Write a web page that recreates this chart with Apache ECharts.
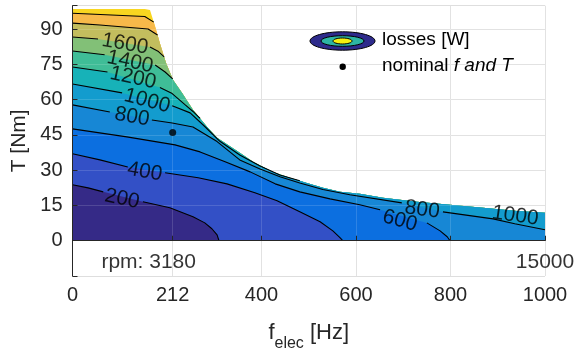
<!DOCTYPE html>
<html><head><meta charset="utf-8">
<script src="https://cdn.jsdelivr.net/npm/echarts@6/dist/echarts.min.js"></script>
<style>html,body{margin:0;padding:0;background:#fff}#c{width:579px;height:354px}</style>
</head><body><div id="c"></div>
<script>
// ---------- data ----------
const xTicks = [0, 212, 400, 600, 800, 1000];
const yTicks = [0, 15, 30, 45, 60, 75, 90];
const levels = [200, 400, 600, 800, 1000, 1200, 1400, 1600, 1800, 2000];
const bandColors = ['#352a87', '#3350c6', '#0c6fe0', '#1787d5', '#139cce', '#17b2b8',
                    '#3fbd97', '#82c077', '#c3bd5e', '#f7b94a', '#f8d620'];
// max-torque envelope [f, T]
const boundary = [[0,98.6],[153,98.6],[164,98.2],[175,91],[185,84],[198,75.6],[213,68.4],[232,62.9],
  [255,55.7],[285,48.4],[306,43.8],[354,37.4],[382,33.6],[424,29.3],[460,26.8],[496,24.6],[530,22.5],
  [566,20.8],[608,20],[657,18.3],[729,16.6],[799,15.3],[869,14],[941,12.7],[1000,11.9]];
// contour lines [f, T], null = gap under label
const c200 = [[0,23.8],[33,22.5],[65,20.8],null,[149,16.6],[206,14],[255,10.2],[280,7.6],[295,5.1],[306,2.5],[310,0]];
const c400 = [[0,37],[58,34.4],[117,31.4],null,[196,28.9],[266,26.8],[327,24.2],[386,20.4],[433,17],[481,12.3],[524,8.1],[551,4.2],[566,1.3],[572,0]];
const c600 = [[0,47.6],[115,44.2],[217,40.8],[270,37.8],[323,33.6],[376,29.3],[429,24.2],[481,20.8],[545,17.8],[608,15.3],[651,13.2],null,[750,7.6],[778,4.2],[793,1.7],[799,0]];
const c800 = [[0,57.8],[79,54.8],null,[168,51.4],[211,50.1],[255,48.4],[306,42.2],[354,34.4],[397,30.5],[439,27.2],[481,24.6],[530,21.8],[587,19.6],[697,16.1],null,[784,12.3],[890,9.3],[936,7.2],[1000,4.7]];
const c1000 = [[0,66.7],[105,62.9],null,[211,57.4],[249,54.4],[280,48.6],[312,42.3],[354,36.5],[397,31.8],[439,28.0],[481,25.5]];
const c1200 = [[0,73.9],[74,71.8],null,[185,65.2],[211,62.6],[238,57.9],[255,55.0],[270,52.05]];
const c1400 = [[0,80.7],[68,79.1],null,[175,74.8],[196,71.8],[212,68.9]];
const c1600 = [[0,86.7],[54,85.8],null,[164,82.4],[182,80.5],[194,78.2]];
const c1800 = [[0,92.6],[58,91.8],[160,90.1],[180,87.5]];
const c2000 = [[0,96.8],[153,95.4],[172,93]];
const contours = [c200, c400, c600, c800, c1000, c1200, c1400, c1600, c1800, c2000];
const contourEnds = ['bottom','bottom','bottom','right','boundary','boundary','boundary','boundary','boundary','boundary'];
// inline contour labels [f, T, text, rotation]
const labelPos = [[111,83.7,'1600',-10],[122,76.1,'1400',-12],[128,69.3,'1200',-12],[158,59.5,'1000',-15],
  [126,52.7,'800',-10],[153,29.3,'400',-10],[105,17.8,'200',-12],[693,8.5,'600',-15],[740,13.2,'800',-8],[937,10.6,'1000',-8]];
const nominal = [212, 46];
const rpmLabels = [[212, 'rpm: 3180'], [1000, '15000']];
const rpmRowT = -9;

// ---------- build ----------
const FONT = 'Liberation Sans, Arial, Helvetica, sans-serif';
function belowPolygon(line, end) {
  const pts = line.filter(p => p);
  const last = pts[pts.length - 1];
  const poly = pts.slice();
  if (end === 'boundary') { boundary.forEach(b => { if (b[0] > last[0]) poly.push(b); }); poly.push([1000, 0]); }
  else if (end === 'right') poly.push([1000, 0]);
  poly.push([0, 0]);
  return poly;
}
const polys = [{ pts: [[0,0]].concat(boundary, [[1000,0]]), color: bandColors[10] }];
for (let i = levels.length - 1; i >= 0; i--) polys.push({ pts: belowPolygon(contours[i], contourEnds[i]), color: bandColors[i] });

const series = [];
series.push({ type: 'line', data: [], z: 1, silent: true,
  markLine: { z: 1, silent: true, symbol: ['none','none'], label: { show: false }, animation: false,
    lineStyle: { color: '#dedede', width: 1, type: 'solid' }, emphasis: { disabled: true },
    data: xTicks.slice(1).map(v => ({ xAxis: v })) } });
series.push({ type: 'custom', z: 2, silent: true, animation: false,
  data: polys.map((p, i) => [i]),
  renderItem: function (params, api) {
    const p = polys[params.dataIndex];
    return { type: 'polygon', shape: { points: p.pts.map(q => api.coord(q)) }, style: { fill: p.color, stroke: null } };
  } });
series.push({ type: 'line', data: [], z: 3, silent: true,
  markLine: { z: 3, silent: true, symbol: ['none','none'], label: { show: false }, animation: false,
    lineStyle: { color: 'rgba(255,255,255,0.14)', width: 1, type: 'solid' }, emphasis: { disabled: true },
    data: xTicks.slice(1).map(v => ({ xAxis: v })).concat(yTicks.slice(1).map(v => ({ yAxis: v }))) } });
contours.forEach(c => series.push({ type: 'line', data: c.map(p => p ? p : [null, null]), z: 4, silent: true,
  showSymbol: false, connectNulls: false, animation: false, lineStyle: { color: '#000', width: 1.1 } }));
series.push({ type: 'scatter', z: 5, symbolSize: 0, silent: true, animation: false,
  data: labelPos.map(l => ({ value: [l[0], l[1]], label: { formatter: l[2], rotate: l[3] } })),
  label: { show: true, position: 'inside', color: '#000', fontSize: 21, fontFamily: FONT } });
series.push({ type: 'scatter', z: 6, symbol: 'circle', symbolSize: 7, itemStyle: { color: '#000' },
  data: [nominal], animation: false });
series.push({ type: 'scatter', z: 6, symbolSize: 0, silent: true, animation: false,
  data: rpmLabels.map((r, i) => ({ value: [r[0], rpmRowT], label: { formatter: r[1], offset: [i === 0 ? -24 : 0, 0] } })),
  label: { show: true, position: 'inside', color: '#000', fontSize: 21, fontFamily: FONT } });

const option = {
  animation: false,
  grid: { left: 72.5, right: 34, top: 5.7, bottom: 78, containLabel: false, outerBoundsMode: 'none' },
  xAxis: { type: 'value', min: 0, max: 1000, z: 10,
    axisLine: { lineStyle: { color: '#262626', width: 1 } },
    axisTick: { inside: true, length: 5, customValues: xTicks, lineStyle: { color: '#262626' } },
    axisLabel: { customValues: xTicks, color: '#262626', fontSize: 20, fontFamily: FONT, margin: 9, formatter: v => String(v) },
    splitLine: { show: false },
    name: '{a|f}{b|elec}{a| [Hz]}', nameLocation: 'middle', nameGap: 46,
    nameTextStyle: { color: '#262626', fontFamily: FONT,
      rich: { a: { fontSize: 22, fontFamily: FONT, color: '#262626', verticalAlign: 'top' },
              b: { fontSize: 16, fontFamily: FONT, color: '#262626', padding: [14,0,0,0], verticalAlign: 'top' } } } },
  yAxis: [
    { type: 'value', position: 'left', min: -15, max: 100, interval: 15, z: 0,
      axisLine: { show: false }, axisTick: { show: false }, axisLabel: { show: false },
      splitLine: { show: true, lineStyle: { color: '#dedede', width: 1 } } },
    { type: 'value', position: 'left', offset: 0, min: -15, max: 100, interval: 15, z: 10,
      axisLine: { show: true, lineStyle: { color: '#262626', width: 1 } },
      axisTick: { show: true, inside: true, length: 5, lineStyle: { color: '#262626' } },
      axisLabel: { color: '#262626', fontSize: 20, fontFamily: FONT, margin: 10,
        formatter: v => (yTicks.indexOf(v) >= 0 ? String(v) : '') },
      splitLine: { show: false },
      name: 'T [Nm]', nameLocation: 'middle', nameGap: 38,
      nameTextStyle: { color: '#262626', fontSize: 21, fontFamily: FONT } }
  ],
  series: series,
  graphic: [
    { type: 'ellipse', shape: { cx: 342.5, cy: 41, rx: 32.5, ry: 9.2 }, style: { fill: '#2e2b8c', stroke: '#000', lineWidth: 1 }, z: 20 },
    { type: 'ellipse', shape: { cx: 342.5, cy: 41, rx: 21.5, ry: 5.3 }, style: { fill: '#2db5a3', stroke: '#000', lineWidth: 1 }, z: 21 },
    { type: 'ellipse', shape: { cx: 342.5, cy: 41, rx: 9.5, ry: 3 }, style: { fill: '#f5f10f', stroke: '#000', lineWidth: 1 }, z: 22 },
    { type: 'text', left: 382, top: 30, z: 20, style: { text: 'losses [W]', fontSize: 19, fontFamily: FONT, fill: '#000' } },
    { type: 'circle', shape: { cx: 342.7, cy: 66.7, r: 3.2 }, style: { fill: '#000' }, z: 20 },
    { type: 'text', left: 382, top: 56, z: 20, style: { text: '{n|nominal }{i|f and T}', fontSize: 19, fontFamily: FONT, fill: '#000',
        rich: { n: { fontSize: 19, fontFamily: FONT, fill: '#000' }, i: { fontSize: 19, fontFamily: FONT, fontStyle: 'italic', fill: '#000' } } } }
  ]
};
const chart = echarts.init(document.getElementById('c'), null, { renderer: 'canvas' });
chart.setOption(option);
</script></body></html>
